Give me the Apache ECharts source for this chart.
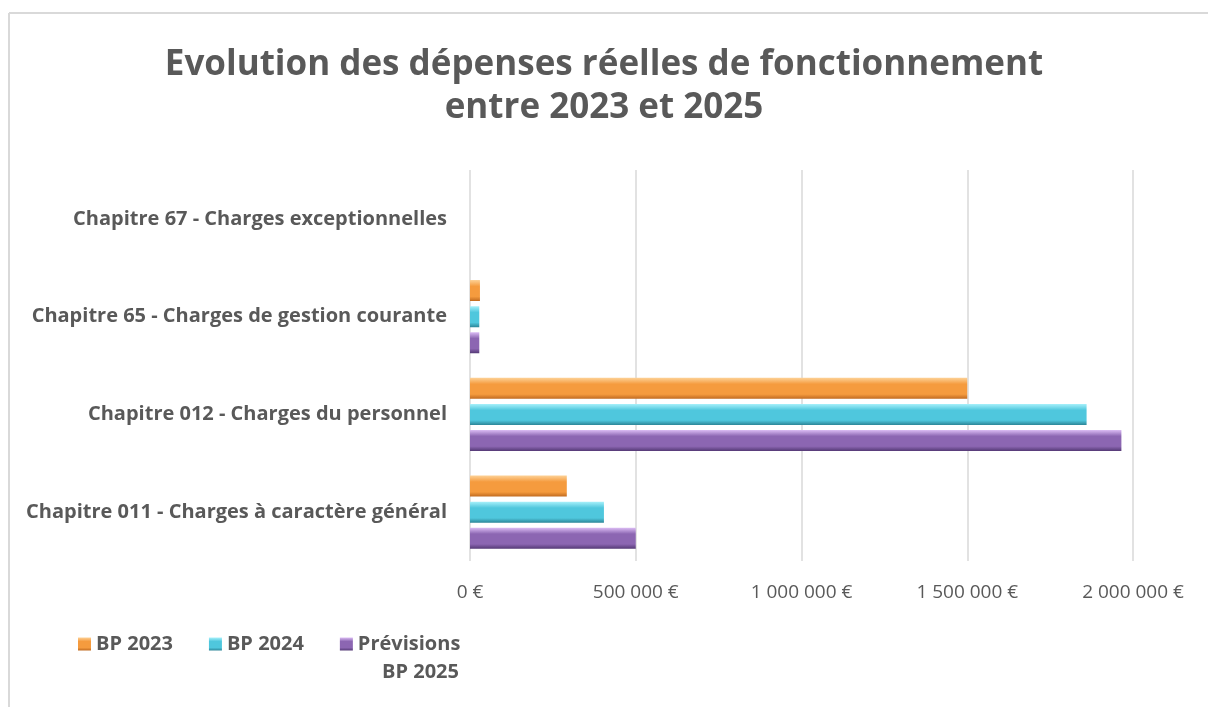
<!DOCTYPE html>
<html>
<head>
<meta charset="utf-8">
<script src="https://cdn.jsdelivr.net/npm/echarts@6/dist/echarts.min.js"></script>
<style>
  html, body { margin: 0; padding: 0; background: #fff; }
  #chart { width: 1208px; height: 707px; }
</style>
</head>
<body>
<div id="chart"></div>
<script>
var categories = [
    'Chapitre 011 - Charges à caractère général',
    'Chapitre 012 - Charges du personnel',
    'Chapitre 65 - Charges de gestion courante',
    'Chapitre 67 - Charges exceptionnelles'
];
var seriesNames = ['BP 2023', 'BP 2024', 'Prévisions BP 2025'];
var bp2023 = [292000, 1500000, 30000, 0];
var bp2024 = [404000, 1860000, 28000, 0];
var bp2025 = [500000, 1965000, 28000, 0];

// bevel-ish look: light top edge, flat middle, dark bottom edge
function grad(top, mid, bottom) {
    return new echarts.graphic.LinearGradient(0, 0, 0, 1, [
        {offset: 0, color: top},
        {offset: 0.3, color: mid},
        {offset: 0.78, color: mid},
        {offset: 1, color: bottom}
    ]);
}

var fontFam = '"Open Sans", sans-serif';
var grey = '#595959';
var myChart = echarts.init(document.getElementById('chart'));
var option = {
    backgroundColor: '#fff',
    title: {
        text: 'Evolution des dépenses réelles de fonctionnement\nentre 2023 et 2025',
        left: 'center',
        top: 39,
        textStyle: {
            fontFamily: fontFam,
            fontWeight: 'bold',
            fontSize: 35,
            color: grey,
            lineHeight: 43
        }
    },
    graphic: [
        {type: 'line', shape: {x1: 9, y1: 13, x2: 1208, y2: 13}, style: {stroke: '#d9d9d9', lineWidth: 2}},
        {type: 'line', shape: {x1: 9, y1: 13, x2: 9, y2: 707}, style: {stroke: '#d9d9d9', lineWidth: 2}},
        {
            type: 'text', left: 382, top: 662,
            style: {text: 'BP 2025', font: 'bold 20px "Open Sans", sans-serif', fill: grey}
        }
    ],
    legend: {
        left: 73,
        top: 629,
        itemGap: 36,
        itemWidth: 13,
        itemHeight: 13,
        icon: 'rect',
        textStyle: {fontFamily: fontFam, fontWeight: 'bold', fontSize: 20, color: grey},
        formatter: function (name) {
            return name === 'Prévisions BP 2025' ? 'Prévisions' : name;
        },
        data: seriesNames
    },
    grid: {
        left: 470,
        right: 75,
        top: 170,
        bottom: 146,
        containLabel: false
    },
    xAxis: {
        type: 'value',
        min: 0,
        max: 2000000,
        interval: 500000,
        axisLine: {show: false},
        axisTick: {show: false},
        splitLine: {lineStyle: {color: '#d9d9d9', width: 1.5}},
        axisLabel: {
            margin: 22,
            fontFamily: fontFam,
            fontSize: 19,
            color: grey,
            formatter: function (v) {
                return String(v).replace(/\B(?=(\d{3})+(?!\d))/g, ' ') + ' €';
            }
        }
    },
    yAxis: {
        type: 'category',
        data: categories,
        axisLine: {show: false},
        axisTick: {show: false},
        axisLabel: {
            margin: 23,
            padding: [6, 0, 0, 0],
            fontFamily: fontFam,
            fontWeight: 'bold',
            fontSize: 20,
            color: grey
        }
    },
    series: [
        {
            name: seriesNames[0], type: 'bar', data: bp2023, barWidth: 21, barGap: '24%',
            itemStyle: {color: grad('#fdd196', '#f59b3e', '#c06a20')}
        },
        {
            name: seriesNames[1], type: 'bar', data: bp2024, barWidth: 21, barGap: '24%',
            itemStyle: {color: grad('#a8f1fb', '#4fc7dd', '#2d8799')}
        },
        {
            name: seriesNames[2], type: 'bar', data: bp2025, barWidth: 21, barGap: '24%',
            itemStyle: {color: grad('#dcbdf5', '#8c66b2', '#553a76')}
        }
    ]
};
myChart.setOption(option);
</script>
</body>
</html>
